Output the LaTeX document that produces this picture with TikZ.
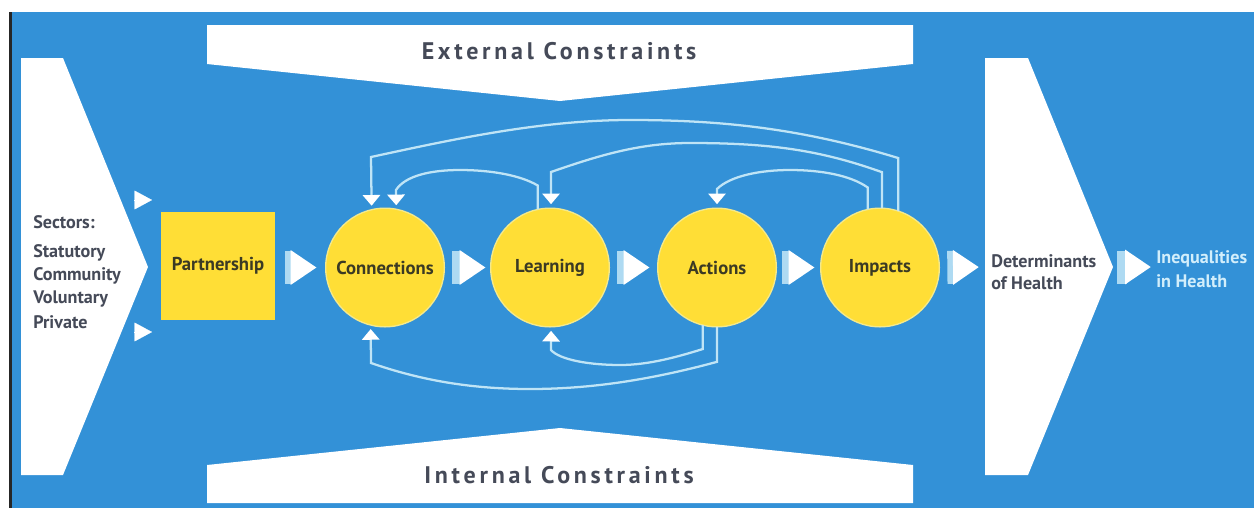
\documentclass[tikz,border=0pt]{standalone}
\usepackage{fontspec}
\setmainfont{PT Sans}
\newfontfamily\spacedfont[LetterSpace=15.5]{PT Sans}
\usetikzlibrary{arrows.meta}
\definecolor{bgblue}{HTML}{3391D7}
\definecolor{hubyellow}{HTML}{FFDE36}
\definecolor{hubedge}{HTML}{F4E98C}
\definecolor{flowline}{HTML}{BFE4F6}
\definecolor{gatebar}{HTML}{AEDAF2}
\definecolor{inktext}{HTML}{3B3A24}
\definecolor{greytext}{HTML}{454A58}
\definecolor{paletext}{HTML}{D2EEFB}
\tikzset{
  x=0.75pt,y=-0.75pt,
  plate/.style={fill=white,draw=none},
  hub/.style={circle,fill=hubyellow,draw=hubedge,line width=1pt,minimum size=89pt,inner sep=0pt,outer sep=0pt,text=inktext,font=\bfseries\fontsize{14}{16}\selectfont},
  gate/.style 2 args={draw=gatebar,line width=24.75pt,shorten <=#1,shorten >=#2,-{Triangle[length=19.5pt,width=24.75pt,color=white]}},
  feedback/.style={draw=flowline,line width=1.7pt,-{Triangle[length=8pt,width=13pt,color=white]},shorten >=3pt},
  pointer/.style={draw=white,line width=0.1pt,-{Triangle[length=13pt,width=14pt,color=white]}},
  banner/.style={text=greytext,font=\spacedfont\bfseries\fontsize{18}{20}\selectfont},
  label/.style={anchor=west,inner sep=0pt,text=greytext,font=\bfseries\fontsize{13.6}{15}\selectfont},
}
\begin{document}
\begin{tikzpicture}
\useasboundingbox (0,0) rectangle (1259,508);
\fill[white] (0,0) rectangle (1259,508);
\fill[bgblue] (12,12) rectangle (1254,508);
\fill[black!85] (9,12) rectangle (12,508);
% plates
\fill[plate] (21,58) -- (63,58) -- (148,267) -- (63,475) -- (21,475) -- cycle;
\fill[plate] (985,58) -- (1028,58) -- (1113,267) -- (1028,475) -- (985,475) -- cycle;
\fill[plate] (207,25) -- (913,25) -- (913,64) -- (560,101) -- (207,64) -- cycle;
\fill[plate] (207,503) -- (913,503) -- (913,465) -- (560,428) -- (207,465) -- cycle;
\node[banner] (ext) at (559,51) {External Constraints};
\node[banner] (int) at (559,475) {Internal Constraints};
% sector text
\node[label] (sec0) at (33,222) {Sectors:};
\node[label] (sec1) at (33,253) {Statutory};
\node[label] (sec2) at (33,276) {Community};
\node[label] (sec3) at (33,299) {Voluntary};
\node[label] (sec4) at (33,322) {Private};
\coordinate (sectip) at (148,267);
% main nodes
\node[rectangle,fill=hubyellow,minimum width=85.5pt,minimum height=81pt,inner sep=0pt,outer sep=0pt,text=inktext,font=\bfseries\fontsize{14}{16}\selectfont] (part) at (218,266) {Partnership};
\node[hub] (conn) at (385,267.5) {Connections};
\node[hub] (lear) at (550,267.5) {Learning};
\node[hub] (acti) at (717,267.5) {Actions};
\node[hub] (impa) at (880,267.5) {Impacts};
\coordinate (dettail) at (955,267);
\coordinate (dettip) at (1113,267);
\node[label] (det1) at (991,261) {Determinants};
\node[label] (det2) at (991,283) {of Health};
\node[label,text=paletext] (ineq1) at (1156,259) {Inequalities};
\node[label,text=paletext] (ineq2) at (1156,281) {in Health};
% block arrows
\draw[gate={7.5pt}{6.75pt}] (part.east |- conn.center) -- (conn.west);
\draw[gate={6pt}{3.75pt}] (conn.east) -- (lear.west);
\draw[gate={6pt}{6pt}] (lear.east) -- (acti.west);
\draw[gate={4.5pt}{4.5pt}] (acti.east) -- (impa.west);
\draw[gate={6pt}{4.5pt}] (impa.east) -- (dettail -| 985,0);
\draw[gate={3pt}{3.75pt}] (dettip) -- (ineq1.west |- dettip);
% sector pointers
\coordinate (pa) at (134,200);
\coordinate (pb) at (152,200);
\coordinate (pc) at (134,332);
\coordinate (pd) at (152,332);
\draw[pointer] (pa) -- (pb);
\draw[pointer] (pc) -- (pd);
% feedback loops above
\draw[feedback] (impa.72.5) -- ++(0,-53) .. controls (800,128) and (720,120) .. (630,120) .. controls (540,120) and (450,140) .. (371,157) -- (conn.103.5);
\draw[feedback] (impa.88) -- ++(0,-36) .. controls (820,150) and (770,143) .. (690,143) .. controls (640,143) and (600,155) .. (551,172) -- (lear.89);
\draw[feedback] (impa.102.5) -- ++(0,-22) .. controls (850,175) and (820,170) .. (790,170) .. controls (760,170) and (730,176) .. (717,189) -- (acti.90);
\draw[feedback] (lear.102.5) -- ++(0,-24) .. controls (520,175) and (490,170) .. (460,170) .. controls (430,170) and (405,176) .. (396,190) -- (conn.79.5);
% feedback loops below
\draw[feedback] (acti.270) -- ++(0,35) .. controls (650,380) and (590,389) .. (530,389) .. controls (470,389) and (420,380) .. (371,363) -- (conn.256.5);
\draw[feedback] (acti.256.5) -- ++(0,24) .. controls (680,356) and (650,365) .. (620,365) .. controls (590,365) and (560,360) .. (551,350) -- (lear.271);
\end{tikzpicture}
\end{document}
